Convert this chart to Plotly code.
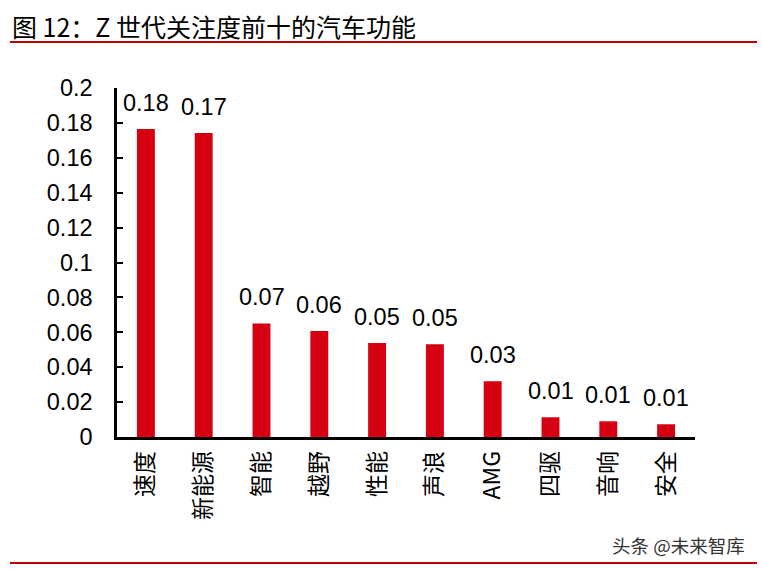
import plotly.graph_objects as go

categories = ["速度", "新能源", "智能", "越野", "性能", "声浪", "AMG", "四驱", "音响", "安全"]
values = [0.1765, 0.1742, 0.0651, 0.0608, 0.0538, 0.0532, 0.0320, 0.0113, 0.0090, 0.0073]
y_ticks = [0, 0.02, 0.04, 0.06, 0.08, 0.1, 0.12, 0.14, 0.16, 0.18, 0.2]
y_tick_labels = ["0", "0.02", "0.04", "0.06", "0.08", "0.1", "0.12", "0.14", "0.16", "0.18", "0.2"]
title_text = "图 12：Z 世代关注度前十的汽车功能"
source_text = "头条 @未来智库"

RED = "#D50012"
LINE_RED = "#C00000"
FONT = "Liberation Sans, Arial, Noto Sans CJK SC, sans-serif"
CJK = "Noto Sans CJK SC, Liberation Sans, sans-serif"

W, H = 762, 570
ml, mr, mt, mb = 117, 67, 88, 133
pw, ph = W - ml - mr, H - mt - mb


def px_x(x):
    return (x - ml) / pw


def px_y(y):
    return (H - mb - y) / ph


fig = go.Figure()
fig.add_trace(go.Bar(
    x=categories, y=values,
    marker=dict(color=RED, line=dict(width=0)),
    width=0.31,
    hoverinfo="skip",
))

annotations = []
# value labels
for c, v in zip(categories, values):
    annotations.append(dict(
        x=c, y=v, xref="x", yref="y", text=f"{v:.2f}", showarrow=False,
        yanchor="bottom", yshift=11, font=dict(family=FONT, size=23.5, color="black"),
    ))
# title
annotations.append(dict(
    x=px_x(10), y=px_y(26), xref="paper", yref="paper", text=title_text,
    showarrow=False, xanchor="left", yanchor="middle",
    font=dict(family=CJK, size=25, color="black"),
))
# source
annotations.append(dict(
    x=px_x(747), y=px_y(545), xref="paper", yref="paper", text=source_text,
    showarrow=False, xanchor="right", yanchor="middle",
    font=dict(family=CJK, size=18.5, color="#333333"),
))

shapes = [
    dict(type="line", xref="paper", yref="paper", x0=px_x(10), x1=px_x(757),
         y0=px_y(42), y1=px_y(42), line=dict(color=LINE_RED, width=2)),
    dict(type="line", xref="paper", yref="paper", x0=px_x(10), x1=px_x(757),
         y0=px_y(563), y1=px_y(563), line=dict(color=LINE_RED, width=2)),
]

fig.update_layout(
    annotations=annotations,
    shapes=shapes,
    width=W, height=H,
    margin=dict(l=ml, r=mr, t=mt, b=mb, pad=0),
    plot_bgcolor="white", paper_bgcolor="white",
    showlegend=False,
    xaxis=dict(
        range=[-0.5, len(categories) - 0.5], ticks="",
        tickangle=-90, ticklabelstandoff=2,
        tickfont=dict(family=CJK, size=23, color="black"),
        showline=True, linecolor="black", linewidth=2.5, showgrid=False,
        zeroline=False, fixedrange=True,
    ),
    yaxis=dict(
        range=[0, 0.2], tickvals=y_ticks, ticktext=y_tick_labels,
        ticks="inside", ticklen=6, tickwidth=2, tickcolor="black",
        showline=True, linecolor="black", linewidth=2.5, showgrid=False,
        zeroline=False, ticklabelstandoff=17,
        tickfont=dict(family=FONT, size=23.5, color="black"), fixedrange=True,
    ),
)

fig.write_html("out.html", config={"displayModeBar": False})
